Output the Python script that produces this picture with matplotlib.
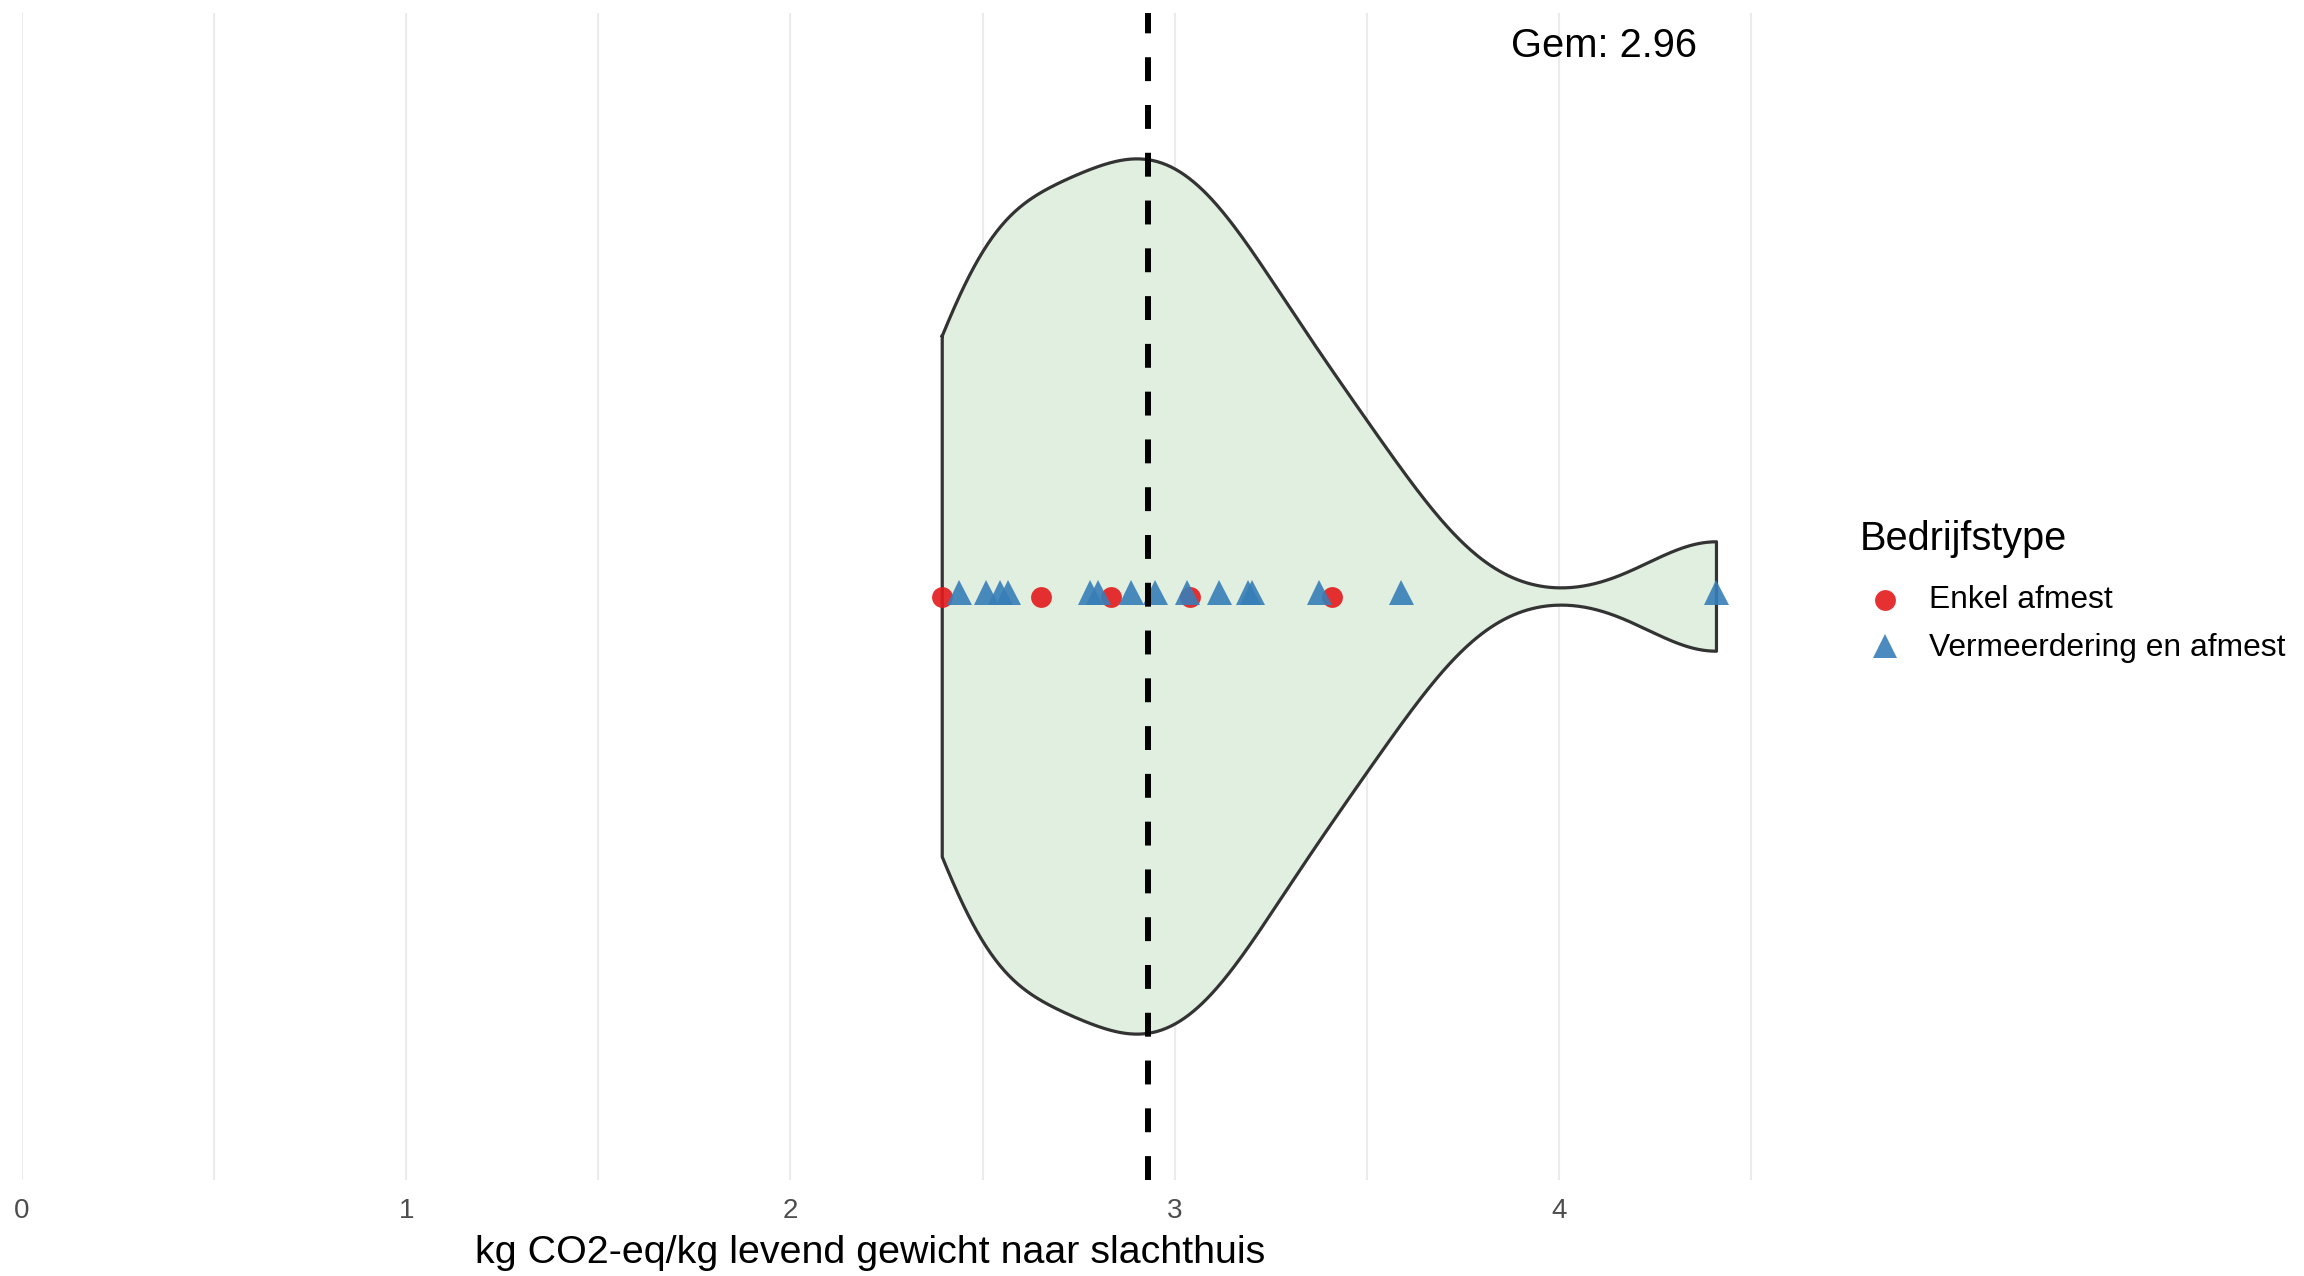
import numpy as np
import matplotlib
matplotlib.use("Agg")
import matplotlib.pyplot as plt
from matplotlib.lines import Line2D

# ---- data ----
enkel_afmest = [2.395, 2.653, 2.833, 3.039, 3.410]
vermeerdering_afmest = [2.439, 2.510, 2.545, 2.567, 2.779, 2.801, 2.885, 2.948,
                        3.031, 3.115, 3.191, 3.200, 3.375, 3.590, 4.410]
mean_line_value = 2.93
mean_label = "Gem: 2.96"
x_ticks = [0, 1, 2, 3, 4]
x_label = "kg CO2-eq/kg levend gewicht naar slachthuis"
legend_title = "Bedrijfstype"
legend_labels = ["Enkel afmest", "Vermeerdering en afmest"]

plt.rcParams['font.family'] = ['Liberation Sans', 'DejaVu Sans']

W, H = 2304, 1276
fig = plt.figure(figsize=(W / 100, H / 100), dpi=100)
left, right = 22 / W, 1801 / W
bottom, top = 1 - 1180 / H, 1 - 13 / H
ax = fig.add_axes([left, bottom, right - left, top - bottom])
xmin, xmax = 0, 4.63
ax.set_xlim(xmin, xmax)
ax.set_ylim(0.4, 1.6)

# gridlines
for v in np.arange(0, 4.51, 0.5):
    ax.axvline(v, color="#EBEBEB", lw=1.5, zorder=0)

# violin (gaussian KDE, trimmed)
allv = np.array(enkel_afmest + vermeerdering_afmest)
n = len(allv)
sd = allv.std(ddof=1)
iqr = np.subtract(*np.percentile(allv, [75, 25]))
bw = 0.87 * 0.9 * min(sd, iqr / 1.34) * n ** (-0.2)
xs = np.linspace(allv.min(), allv.max(), 512)
dens = np.exp(-0.5 * ((xs[:, None] - allv[None, :]) / bw) ** 2).sum(axis=1)
half = 0.45 * dens / dens.max()
ax.fill_between(xs, 1 - half, 1 + half, color="#E0EFE0", zorder=1, lw=0)
px = np.concatenate([xs, xs[::-1], xs[:1]])
py = np.concatenate([1 + half, (1 - half)[::-1], (1 + half)[:1]])
ax.plot(px, py, color="#333333", lw=2.3, zorder=2, solid_joinstyle="round")

# points
red = "#E41A1C"
blue = "#377EB8"
ax.plot(enkel_afmest, [1] * len(enkel_afmest), "o", color=red, alpha=0.9,
        markersize=15, markeredgewidth=0, zorder=3)
ax.plot(vermeerdering_afmest, [1.005] * len(vermeerdering_afmest), "^", color=blue,
        alpha=0.9, markersize=18, markeredgewidth=0, zorder=3)

# mean line
ln = ax.axvline(mean_line_value, color="black", lw=4.3, zorder=4)
ln.set_dashes((4, 4))

ax.text(4.117, 1 - (46 - 596.5) / (1167 / 1.2), mean_label, ha="center", va="center",
        fontsize=28.7, color="black")

# axes styling
for s in ax.spines.values():
    s.set_visible(False)
ax.set_yticks([])
ax.set_xticks(x_ticks)
ax.set_xticklabels([str(t) for t in x_ticks])
ax.tick_params(axis="x", length=0, labelsize=20, labelcolor="#4D4D4D", pad=13)
fig.text(870 / W, 1 - 1253 / H, x_label, ha="center", va="center", fontsize=28.4)

# legend
fig.text(1860 / W, 1 - 539 / H, legend_title, ha="left", va="center", fontsize=28.6)
mk_x = 1885 / W
fig.add_artist(Line2D([mk_x], [1 - 600 / H], transform=fig.transFigure, marker="o", ls="",
                      color=red, alpha=0.9, markersize=15, markeredgewidth=0))
fig.add_artist(Line2D([mk_x], [1 - 646 / H], transform=fig.transFigure, marker="^", ls="",
                      color=blue, alpha=0.9, markersize=17, markeredgewidth=0))
fig.text(1929 / W, 1 - 600 / H, legend_labels[0], ha="left", va="center", fontsize=22.9)
fig.text(1929 / W, 1 - 648 / H, legend_labels[1], ha="left", va="center", fontsize=22.9)

fig.savefig("out.png", dpi=100)
